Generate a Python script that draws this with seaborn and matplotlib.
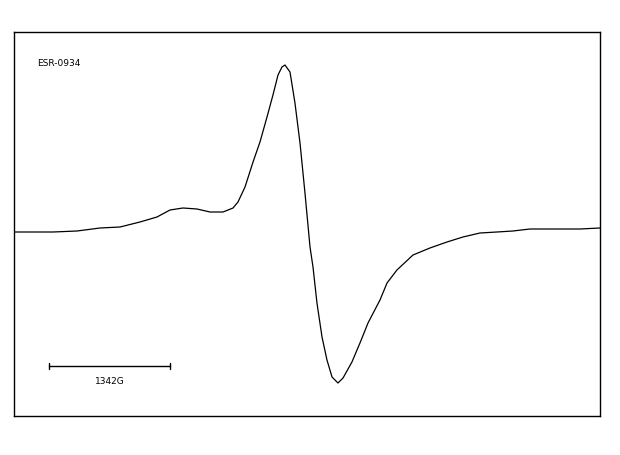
import pandas as pd
import matplotlib
matplotlib.use("Agg")
import matplotlib.pyplot as plt
import seaborn as sns

# spectrum (field in G, intensity in arbitrary units)
field = [0, 433, 699, 954, 1176, 1397, 1586, 1730, 1874, 2029, 2174, 2318,
         2429, 2484, 2562, 2651, 2728, 2806, 2872, 2928, 2972, 3005, 3061,
         3116, 3172, 3227, 3283, 3316, 3360, 3416, 3471, 3527, 3593, 3649,
         3748, 3837, 3926, 4059, 4137, 4247, 4425, 4613, 4802, 4979, 5168,
         5356, 5534, 5722, 5911, 6277, 6499]
intensity = [0, 0, 1, 4, 5, 10, 15, 22, 24, 23, 20, 20,
             24, 30, 45, 70, 90, 115, 137, 157, 165, 167, 160,
             129, 89, 39, -15, -35, -71, -105, -128, -145, -151, -146,
             -130, -111, -91, -68, -51, -38, -23, -16, -10, -5, -1,
             0, 1, 3, 3, 3, 4]

sample_name = "ESR-0934"
scale_start = 388
scale_len = 1342

df = pd.DataFrame({"field": field, "intensity": intensity})

sns.set_style("white")
fig = plt.figure(figsize=(6.2, 4.55), dpi=100)
ax = fig.add_axes([14 / 620, 39 / 455, 586 / 620, 384 / 455])

sns.lineplot(data=df, x="field", y="intensity", ax=ax, color="black",
             linewidth=0.9, sort=False, solid_joinstyle="round")

ax.set_xlim(0, 6499)
ax.set_ylim(-184, 200)
ax.set_xticks([])
ax.set_yticks([])
ax.set_xlabel("")
ax.set_ylabel("")
for s in ax.spines.values():
    s.set_color("black")
    s.set_linewidth(1)

# label and scale bar
ax.text(255, 168, sample_name, fontsize=6.5, va="center", ha="left", color="black")
y_bar = -134
ax.plot([scale_start, scale_start + scale_len], [y_bar, y_bar], color="black", lw=1)
ax.plot([scale_start, scale_start], [y_bar - 3, y_bar + 3], color="black", lw=1)
ax.plot([scale_start + scale_len] * 2, [y_bar - 3, y_bar + 3], color="black", lw=1)
ax.text(scale_start + scale_len / 2, -150, f"{scale_len}G", fontsize=6.5,
        ha="center", va="center", color="black")

fig.savefig("out.png", dpi=100)
